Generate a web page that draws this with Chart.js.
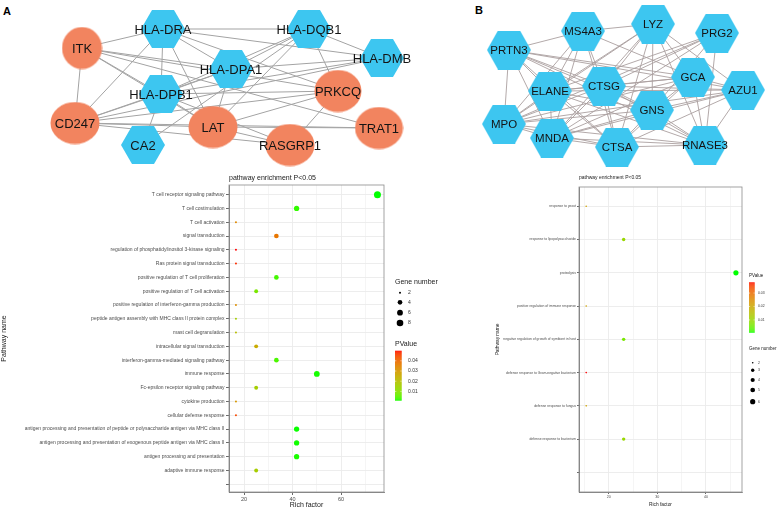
<!DOCTYPE html>
<html><head><meta charset="utf-8">
<script src="https://cdn.jsdelivr.net/npm/chart.js@4.4.1/dist/chart.umd.min.js"></script>
<style>
html,body{margin:0;padding:0;background:#fff;overflow:hidden;width:779px;height:510px;}
canvas{position:absolute;}
.panel{position:absolute;font:bold 11px "Liberation Sans",Arial,sans-serif;color:#000;line-height:11px;}
</style></head><body>
<div class="panel" style="left:3px;top:6px">A</div>
<div class="panel" style="left:475px;top:5px">B</div>
<canvas id="bubA" width="470" height="340" style="left:0;top:170px"></canvas>
<canvas id="bubB" width="309" height="340" style="left:470px;top:170px"></canvas>
<canvas id="netA" width="470" height="175" style="left:0;top:0"></canvas>
<canvas id="netB" width="309" height="175" style="left:470px;top:0"></canvas>
<script>
// ---------------- DATA ----------------
// Network A (layout coordinates)
const nodesA   = ['ITK','HLA-DRA','HLA-DQB1','HLA-DMB','HLA-DPA1','HLA-DPB1','PRKCQ','CD247','CA2','LAT','RASGRP1','TRAT1'];
const nodesAX  = [82, 163, 309, 382, 231, 161, 338, 75, 143, 213, 290, 379];
const nodesAY  = [48, 29, 29, 58, 69, 94, 91, 123, 145, 127, 145, 128];
const nodesAShape = ['e','h','h','h','h','h','e','e','h','e','e','e'];
const edgesA = [
 'ITK|HLA-DRA','ITK|CD247','ITK|HLA-DPB1','ITK|HLA-DPA1','ITK|LAT','ITK|PRKCQ','ITK|TRAT1',
 'HLA-DRA|HLA-DQB1','HLA-DRA|HLA-DMB','HLA-DRA|HLA-DPA1','HLA-DRA|HLA-DPB1','HLA-DRA|CD247','HLA-DRA|LAT','HLA-DRA|PRKCQ',
 'HLA-DQB1|HLA-DMB','HLA-DQB1|HLA-DPA1','HLA-DQB1|HLA-DPB1','HLA-DQB1|PRKCQ','HLA-DQB1|LAT','HLA-DQB1|CA2',
 'HLA-DMB|HLA-DPA1','HLA-DMB|HLA-DPB1','HLA-DMB|CD247',
 'HLA-DPA1|HLA-DPB1','HLA-DPA1|CD247','HLA-DPA1|LAT',
 'HLA-DPB1|CD247','HLA-DPB1|CA2','HLA-DPB1|LAT','HLA-DPB1|RASGRP1','HLA-DPB1|PRKCQ',
 'CD247|LAT','CD247|PRKCQ','CD247|TRAT1','CD247|RASGRP1',
 'LAT|PRKCQ','LAT|TRAT1','LAT|RASGRP1','PRKCQ|RASGRP1'
];

// Network B
const nodesB  = ['MS4A3','LYZ','PRG2','PRTN3','GCA','AZU1','CTSG','ELANE','GNS','MPO','MNDA','CTSA','RNASE3'];
const nodesBX = [113, 183, 247, 39, 223, 273, 134, 80, 182, 34, 82, 147, 235];
const nodesBY = [31, 24, 33, 50, 77, 90, 86, 91, 110, 124, 138, 147, 145];
const edgesB = [
 'PRTN3|MS4A3','PRTN3|ELANE','PRTN3|CTSG','PRTN3|GCA','PRTN3|AZU1','PRTN3|MPO','PRTN3|MNDA','PRTN3|GNS','PRTN3|RNASE3','PRTN3|CTSA',
 'MS4A3|LYZ','MS4A3|ELANE','MS4A3|CTSG','MS4A3|MNDA','MS4A3|MPO','MS4A3|GCA','MS4A3|CTSA',
 'LYZ|CTSG','LYZ|GNS','LYZ|GCA','LYZ|AZU1','LYZ|RNASE3','LYZ|ELANE','LYZ|MNDA','LYZ|CTSA','LYZ|MPO',
 'PRG2|ELANE','PRG2|CTSG','PRG2|MNDA','PRG2|RNASE3','PRG2|MPO','PRG2|GNS',
 'GCA|CTSG','GCA|ELANE','GCA|AZU1','GCA|GNS','GCA|MPO','GCA|MNDA','GCA|CTSA','GCA|RNASE3',
 'AZU1|CTSG','AZU1|ELANE','AZU1|GNS','AZU1|MPO','AZU1|MNDA','AZU1|CTSA','AZU1|RNASE3',
 'CTSG|ELANE','CTSG|GNS','CTSG|MPO','CTSG|MNDA','CTSG|CTSA','CTSG|RNASE3',
 'ELANE|GNS','ELANE|MPO','ELANE|MNDA','ELANE|CTSA','ELANE|RNASE3',
 'GNS|MPO','GNS|MNDA','GNS|CTSA','GNS|RNASE3',
 'MPO|MNDA','MPO|CTSA','MPO|RNASE3','MNDA|CTSA','MNDA|RNASE3','CTSA|RNASE3'
];

// Enrichment A
const pathwaysA = [
 'T cell receptor signaling pathway','T cell costimulation','T cell activation','signal transduction',
 'regulation of phosphatidylinositol 3-kinase signaling','Ras protein signal transduction',
 'positive regulation of T cell proliferation','positive regulation of T cell activation',
 'positive regulation of interferon-gamma production','peptide antigen assembly with MHC class II protein complex',
 'mast cell degranulation','intracellular signal transduction','interferon-gamma-mediated signaling pathway',
 'immune response','Fc-epsilon receptor signaling pathway','cytokine production','cellular defense response',
 'antigen processing and presentation of peptide or polysaccharide antigen via MHC class II',
 'antigen processing and presentation of exogenous peptide antigen via MHC class II',
 'antigen processing and presentation','adaptive immune response',''
];
const richA  = [75, 41.67, 16.67, 33.33, 16.67, 16.67, 33.33, 25, 16.67, 16.67, 16.67, 25, 33.33, 50, 25, 16.67, 16.67, 41.67, 41.67, 41.67, 25];
const genesA = [9, 5, 2, 4, 2, 2, 4, 3, 2, 2, 2, 3, 4, 6, 3, 2, 2, 5, 5, 5, 3];
const pvalsA = [0.0009, 0.0021, 0.0337, 0.0377, 0.0499, 0.0480, 0.0030, 0.0082, 0.0328, 0.0156, 0.0205, 0.0254, 0.0035, 0.0012, 0.0156, 0.0303, 0.0450, 0.0010, 0.0011, 0.0013, 0.0160];
const xTicksA = [20, 40, 60];
const xMinorA = [30, 50, 70];
const sizeKeysA = [2, 4, 6, 8];
const pKeysA = [0.01, 0.02, 0.03, 0.04];

// Enrichment B
const pathwaysB = [
 'response to yeast','response to lipopolysaccharide','proteolysis','positive regulation of immune response',
 'negative regulation of growth of symbiont in host','defense response to Gram-negative bacterium',
 'defense response to fungus','defense response to bacterium',''
];
const richB  = [15.38, 23.08, 46.15, 15.38, 23.08, 15.38, 15.38, 23.08];
const genesB = [2, 3, 6, 2, 3, 2, 2, 3];
const pvalsB = [0.021, 0.0099, 0.0005, 0.021, 0.0061, 0.038, 0.021, 0.0099];
const xTicksB = [20, 30, 40];
const xMinorB = [15, 25, 35, 45];
const sizeKeysB = [2, 3, 4, 5, 6];
const pKeysB = [0.01, 0.02, 0.03];

// ---------------- HELPERS ----------------
const FF = '"Liberation Sans", Arial, sans-serif';
function lin(c){c/=255;return c<=0.04045?c/12.92:Math.pow((c+0.055)/1.055,2.4);}
function unlin(c){c=c<=0.0031308?12.92*c:1.055*Math.pow(c,1/2.4)-0.055;return Math.round(Math.max(0,Math.min(1,c))*255);}
function rgb2lab(rgb){const R=lin(rgb[0]),G=lin(rgb[1]),B=lin(rgb[2]);
 const X=(0.4124*R+0.3576*G+0.1805*B)/0.95047,Y=0.2126*R+0.7152*G+0.0722*B,Z=(0.0193*R+0.1192*G+0.9505*B)/1.08883;
 const f=t=>t>0.008856?Math.cbrt(t):(7.787*t+16/116);const fx=f(X),fy=f(Y),fz=f(Z);
 return [116*fy-16,500*(fx-fy),200*(fy-fz)];}
function lab2rgb(l){const fy=(l[0]+16)/116,fx=fy+l[1]/500,fz=fy-l[2]/200;
 const g=t=>t*t*t>0.008856?t*t*t:(t-16/116)/7.787;
 const X=g(fx)*0.95047,Y=g(fy),Z=g(fz)*1.08883;
 return [unlin(3.2406*X-1.5372*Y-0.4986*Z),unlin(-0.9689*X+1.8758*Y+0.0415*Z),unlin(0.0557*X-0.2040*Y+1.0570*Z)];}
const LOW=rgb2lab([0,255,0]), HIGH=rgb2lab([255,0,0]);
function pColor(p,mn,mx){let t=(p-mn)/(mx-mn);t=Math.max(0,Math.min(1,t));
 const c=lab2rgb([0,1,2].map(k=>LOW[k]+(HIGH[k]-LOW[k])*t));return `rgb(${c[0]},${c[1]},${c[2]})`;}

function hexCanvas(w,h,color){const c=document.createElement('canvas');c.width=w;c.height=h;const x=c.getContext('2d');
 x.fillStyle=color;x.beginPath();const q=w/4;x.moveTo(0,h/2);x.lineTo(q,0);x.lineTo(w-q,0);x.lineTo(w,h/2);x.lineTo(w-q,h);x.lineTo(q,h);x.closePath();x.fill();return c;}
function ellCanvas(w,h,color){const c=document.createElement('canvas');c.width=w;c.height=h;const x=c.getContext('2d');
 x.fillStyle=color;x.beginPath();x.ellipse(w/2,h/2,w/2-0.5,h/2-0.5,0,0,Math.PI*2);x.fill();return c;}

const nodeLabels = {
 id:'nodeLabels',
 afterDatasetsDraw(chart,args,o){const meta=chart.getDatasetMeta(0);const ctx=chart.ctx;ctx.save();
  ctx.font=o.font;ctx.fillStyle=o.color;ctx.textAlign='center';ctx.textBaseline='middle';
  meta.data.forEach((pt,i)=>ctx.fillText(o.names[i],pt.x,pt.y+1));ctx.restore();}
};

function network(id,names,nx,ny,shapes,edges,W,H,st){
 const idx={};names.forEach((n,i)=>idx[n]=i);
 const styles=names.map((n,i)=>shapes[i]==='e'?ellCanvas(st.ew[i]||st.eW,st.eH,st.eColor):hexCanvas(st.hW,st.hH,st.hColor));
 const ds=[{data:names.map((n,i)=>({x:nx[i],y:ny[i]})),pointStyle:styles,pointRadius:20,order:0,clip:false}];
 edges.forEach(e=>{const [a,b]=e.split('|').map(s=>idx[s]);
  ds.push({data:[{x:nx[a],y:ny[a]},{x:nx[b],y:ny[b]}],showLine:true,borderColor:st.edge,borderWidth:st.edgeW,pointRadius:0,order:1,clip:false});});
 new Chart(document.getElementById(id),{type:'scatter',data:{datasets:ds},
  options:{responsive:false,animation:false,events:[],layout:{padding:0,autoPadding:false},
   plugins:{legend:{display:false},tooltip:{enabled:false},nodeLabels:{names,font:st.font,color:'#141414'}},
   scales:{x:{type:'linear',display:false,min:0,max:W},y:{type:'linear',display:false,min:0,max:H,reverse:true}}},
  plugins:[nodeLabels]});
}

const decor = {
 id:'decor',
 afterDraw(chart,args,o){const ctx=chart.ctx,a=chart.chartArea;ctx.save();
  ctx.strokeStyle='#8c8c8c';ctx.lineWidth=0.8;ctx.strokeRect(a.left,a.top,a.right-a.left,a.bottom-a.top);
  ctx.fillStyle='#1a1a1a';ctx.textBaseline='middle';ctx.textAlign='left';
  ctx.font=o.titleFont;ctx.fillText(o.title,a.left,o.titleY);
  const L=o.size;ctx.font=L.titleFont;ctx.fillStyle='#1a1a1a';ctx.fillText('Gene number',L.x,L.titleY);
  ctx.font=L.font;
  o.sizeKeys.forEach((g,i)=>{ctx.fillStyle='#000';ctx.beginPath();ctx.arc(L.dotX,L.ys[i],o.radius(g),0,Math.PI*2);ctx.fill();
   ctx.fillStyle='#333';ctx.fillText(String(g),L.labX,L.ys[i]);});
  const C=o.color;ctx.font=C.titleFont;ctx.fillStyle='#1a1a1a';ctx.fillText('PValue',C.x,C.titleY);
  const h=C.y1-C.y0;
  for(let k=0;k<Math.ceil(h);k++){const t=1-(k+0.5)/h;ctx.fillStyle=pColor(o.pmin+t*(o.pmax-o.pmin),o.pmin,o.pmax);
   ctx.fillRect(C.x,C.y0+k,C.w,Math.min(1.2,h-k));}
  ctx.font=C.font;
  o.pKeys.forEach(v=>{const y=C.y1-(v-o.pmin)/(o.pmax-o.pmin)*h;
   ctx.strokeStyle='rgba(255,255,255,0.9)';ctx.lineWidth=0.6;ctx.beginPath();ctx.moveTo(C.x,y);ctx.lineTo(C.x+C.w*0.2,y);ctx.moveTo(C.x+C.w*0.8,y);ctx.lineTo(C.x+C.w,y);ctx.stroke();
   ctx.fillStyle='#333';ctx.fillText(v.toFixed(2),C.labX,y);});
  ctx.restore();}
};

function bubble(id,labels,rich,genes,pvals,xMajor,xMinor,sizeKeys,pKeys,st){
 const pmin=Math.min(...pvals),pmax=Math.max(...pvals);
 const data=rich.map((r,i)=>({x:r,y:i}));
 const allX=[...xMajor,...xMinor].sort((a,b)=>a-b);
 new Chart(document.getElementById(id),{type:'scatter',
  data:{datasets:[{data,pointRadius:genes.map(st.radius),pointHoverRadius:genes.map(st.radius),
   pointBackgroundColor:pvals.map(p=>pColor(p,pmin,pmax)),pointBorderWidth:0,clip:false}]},
  options:{responsive:false,animation:false,events:[],layout:{padding:st.padding,autoPadding:false},
   plugins:{legend:{display:false},tooltip:{enabled:false},
    decor:{title:'pathway enrichment P<0.05',titleFont:st.titleFont,titleY:st.titleY,size:st.sizeLeg,color:st.colLeg,
     sizeKeys,pKeys,radius:st.radius,pmin,pmax}},
   scales:{
    x:{type:'linear',min:st.xMin,max:st.xMax,
     afterBuildTicks:s=>{s.ticks=allX.map(v=>({value:v}));},
     afterFit:s=>{s.height=st.xAxisH;},
     ticks:{autoSkip:false,maxRotation:0,padding:st.xPad,color:'#4d4d4d',font:{family:FF,size:st.xTickSize},
      callback:v=>xMajor.includes(v)?String(v):''},
     grid:{color:'#ebebeb',lineWidth:c=>xMajor.includes(c.tick&&c.tick.value)?0.9:0.5,tickLength:st.tickLen,
      tickColor:c=>xMajor.includes(c.tick&&c.tick.value)?'#444':'rgba(0,0,0,0)',tickWidth:0.8},
     border:{display:true,color:'#666',width:0.8},
     title:{display:true,text:'Rich factor',color:'#1a1a1a',font:{family:FF,size:st.axTitleSize},padding:st.xTitlePad}},
    y:{type:'linear',reverse:true,min:st.yMin,max:st.yMax,
     afterBuildTicks:s=>{s.ticks=labels.map((l,i)=>({value:i}));},
     afterFit:s=>{s.width=st.yAxisW;},
     ticks:{autoSkip:false,padding:st.yPad,color:'#4d4d4d',font:{family:FF,size:st.yTickSize},callback:v=>labels[v]===undefined?'':labels[v]},
     grid:{color:'#ebebeb',lineWidth:0.9,tickLength:st.tickLen,tickColor:'#444',tickWidth:0.8},
     border:{display:true,color:'#666',width:0.8},
     title:{display:true,text:'Pathway name',color:'#1a1a1a',font:{family:FF,size:st.axTitleSize},padding:st.yTitlePad}}
   }},
  plugins:[decor]});
}

// ---------------- CHARTS ----------------
network('netA',nodesA,nodesAX,nodesAY,nodesAShape,edgesA,470,175,
 {eW:49,eH:43,ew:[41,0,0,0,0,0,48,50,0,50,50,49],eColor:'#f2845f',hW:44,hH:38,hColor:'#3dc6f0',edge:'#a3a3a3',edgeW:1,font:'13px '+FF});
network('netB',nodesB,nodesBX,nodesBY,nodesB.map(()=>'h'),edgesB,309,175,
 {eW:0,eH:0,ew:[],eColor:'#000',hW:44,hH:39,hColor:'#3dc6f0',edge:'#aa9f9f',edgeW:0.9,font:'11.5px '+FF});

bubble('bubA',pathwaysA,richA,genesA,pvalsA,xTicksA,xMinorA,sizeKeysA,pKeysA,{
 radius:g=>1+2.5*Math.sqrt((g-2)/7),
 padding:{left:0,right:86,top:15,bottom:0},xMin:13.8,xMax:77.7,yMin:-0.7,yMax:21.56,
 xAxisH:18,yAxisW:229,tickLen:3,xPad:1,yPad:1.5,xTickSize:5.5,yTickSize:5,axTitleSize:7,
 xTitlePad:{top:0,bottom:0.8},yTitlePad:{top:0,bottom:0},
 titleFont:'7px '+FF,titleY:8,
 sizeLeg:{x:395,titleY:111.7,titleFont:'7px '+FF,font:'5px '+FF,dotX:400,labX:408,ys:[122.7,132.3,142.7,153]},
 colLeg:{x:395,titleY:174,titleFont:'7px '+FF,font:'5px '+FF,y0:180.7,y1:230.7,w:6.7,labX:408}
});
bubble('bubB',pathwaysB,richB,genesB,pvalsB,xTicksB,xMinorB,sizeKeysB,pKeysB,{
 radius:g=>0.8+1.8*Math.sqrt((g-2)/4),
 padding:{left:0,right:37,top:17,bottom:0},xMin:13.9,xMax:47.4,yMin:-0.58,yMax:8.59,
 xAxisH:18,yAxisW:109,tickLen:2,xPad:1,yPad:1,xTickSize:3.6,yTickSize:3.4,axTitleSize:4.8,
 xTitlePad:{top:0,bottom:2},yTitlePad:{top:25,bottom:0},
 titleFont:'5px '+FF,titleY:8,
 sizeLeg:{x:279,titleY:179,titleFont:'4.5px '+FF,font:'3.4px '+FF,dotX:282.7,labX:288,ys:[192.7,200.3,210,220,231.7]},
 colLeg:{x:279,titleY:106,titleFont:'4.5px '+FF,font:'3.4px '+FF,y0:112.3,y1:162.7,w:5.7,labX:288}
});
</script>
</body></html>
